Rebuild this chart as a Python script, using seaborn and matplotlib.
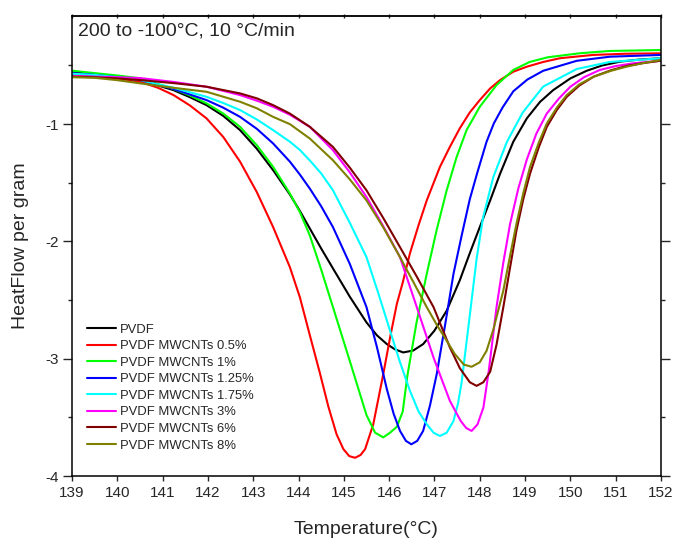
import numpy as np
import pandas as pd
import matplotlib
matplotlib.use("Agg")
import matplotlib.pyplot as plt
import seaborn as sns
from matplotlib.ticker import MultipleLocator

labels = ["PVDF", "PVDF MWCNTs 0.5%", "PVDF MWCNTs 1%", "PVDF MWCNTs 1.25%",
          "PVDF MWCNTs 1.75%", "PVDF MWCNTs 3%", "PVDF MWCNTs 6%", "PVDF MWCNTs 8%"]
colors = ["#000000", "#FF0000", "#00FF00", "#0000FF", "#00FFFF", "#FF00FF", "#800000", "#808000"]

t_pvdf = [139.0, 139.5, 140.0, 140.5, 141.24, 141.6, 141.97, 142.34, 142.71, 143.08, 143.44, 143.81,
          144.03, 144.25, 144.5, 144.76, 145.13, 145.5, 145.73, 145.95, 146.13, 146.31, 146.53, 146.75,
          147.0, 147.27, 147.56, 147.78, 148.0, 148.23, 148.45, 148.74, 149.04, 149.33, 149.62, 150.0,
          150.36, 150.7, 151.1, 151.5, 152.0]
hf_pvdf = [-0.558, -0.575, -0.595, -0.624, -0.71, -0.77, -0.838, -0.93, -1.051, -1.21, -1.393, -1.60,
           -1.74, -1.89, -2.06, -2.23, -2.47, -2.69, -2.80, -2.875, -2.92, -2.946, -2.93, -2.875,
           -2.76, -2.59, -2.33, -2.10, -1.878, -1.65, -1.421, -1.15, -0.95, -0.81, -0.71, -0.61,
           -0.545, -0.50, -0.467, -0.45, -0.438]

t_05 = [139.0, 139.5, 140.0, 140.5, 140.9, 141.24, 141.6, 141.97, 142.34, 142.71, 143.08, 143.44,
        143.81, 144.03, 144.25, 144.47, 144.66, 144.84, 144.99, 145.12, 145.25, 145.37, 145.47, 145.65,
        145.87, 146.03, 146.17, 146.3, 146.46, 146.65, 146.83, 147.12, 147.34, 147.56, 147.78, 148.0,
        148.23, 148.45, 148.74, 149.04, 149.4, 149.77, 150.5, 151.2, 152.0]
hf_05 = [-0.573, -0.59, -0.61, -0.638, -0.69, -0.752, -0.84, -0.951, -1.11, -1.32, -1.58, -1.878,
         -2.22, -2.476, -2.80, -3.12, -3.41, -3.644, -3.77, -3.83, -3.844, -3.82, -3.77, -3.558,
         -3.131, -2.80, -2.532, -2.35, -2.10, -1.86, -1.65, -1.365, -1.194, -1.035, -0.90, -0.795,
         -0.695, -0.624, -0.553, -0.51, -0.47, -0.438, -0.41, -0.40, -0.396]

t_1 = [139.0, 139.5, 140.0, 140.5, 141.24, 141.6, 141.97, 142.34, 142.71, 143.08, 143.44, 143.81,
       144.03, 144.25, 144.5, 144.76, 145.13, 145.5, 145.69, 145.87, 146.02, 146.17, 146.3, 146.4,
       146.6, 146.83, 147.05, 147.27, 147.49, 147.71, 148.0, 148.37, 148.74, 149.1, 149.5, 150.2,
       150.87, 152.0]
hf_1 = [-0.544, -0.565, -0.585, -0.609, -0.70, -0.755, -0.823, -0.91, -1.023, -1.18, -1.365, -1.592,
        -1.75, -1.95, -2.24, -2.56, -3.017, -3.48, -3.63, -3.67, -3.63, -3.58, -3.45, -3.15,
        -2.70, -2.276, -1.90, -1.564, -1.279, -1.05, -0.852, -0.667, -0.538, -0.47, -0.43, -0.396,
        -0.376, -0.368]

t_125 = [139.0, 139.5, 140.0, 140.5, 141.24, 141.97, 142.34, 142.71, 143.08, 143.44, 143.81, 144.03,
         144.25, 144.5, 144.76, 145.13, 145.5, 145.73, 145.95, 146.1, 146.24, 146.37, 146.49, 146.62,
         146.75, 146.9, 147.05, 147.24, 147.42, 147.6, 147.78, 147.94, 148.15, 148.31, 148.5, 148.74,
         149.05, 149.4, 150.14, 150.87, 152.0]
hf_125 = [-0.565, -0.58, -0.60, -0.624, -0.70, -0.795, -0.86, -0.938, -1.04, -1.165, -1.32, -1.43,
          -1.55, -1.70, -1.878, -2.19, -2.56, -2.90, -3.26, -3.47, -3.615, -3.70, -3.729, -3.70,
          -3.615, -3.40, -3.131, -2.70, -2.276, -1.95, -1.64, -1.421, -1.15, -0.994, -0.86, -0.72,
          -0.62, -0.545, -0.46, -0.425, -0.41]

t_175 = [139.0, 139.5, 140.0, 140.5, 141.24, 141.97, 142.34, 142.71, 143.08, 143.44, 143.81, 144.03,
         144.25, 144.5, 144.76, 145.13, 145.5, 145.76, 146.02, 146.24, 146.46, 146.65, 146.83, 146.98,
         147.12, 147.27, 147.42, 147.52, 147.6, 147.78, 147.93, 148.07, 148.3, 148.6, 148.95, 149.4,
         150.14, 150.87, 152.0]
hf_175 = [-0.57, -0.58, -0.60, -0.624, -0.69, -0.767, -0.82, -0.880, -0.96, -1.051, -1.15, -1.22,
          -1.31, -1.42, -1.564, -1.84, -2.134, -2.44, -2.761, -3.03, -3.274, -3.45, -3.558, -3.63,
          -3.658, -3.63, -3.53, -3.38, -3.2, -2.63, -2.15, -1.80, -1.45, -1.15, -0.90, -0.68,
          -0.53, -0.47, -0.438]

t_3 = [139.0, 139.5, 140.0, 140.5, 141.24, 141.97, 142.71, 143.08, 143.44, 143.81, 144.25, 144.76,
       145.13, 145.5, 145.87, 146.24, 146.61, 146.98, 147.34, 147.58, 147.7, 147.82, 147.95, 148.08,
       148.2, 148.37, 148.52, 148.67, 148.85, 149.04, 149.25, 149.48, 149.75, 150.0, 150.3, 150.65,
       151.0, 151.39, 152.0]
hf_3 = [-0.59, -0.595, -0.60, -0.607, -0.64, -0.681, -0.752, -0.80, -0.852, -0.92, -1.023, -1.222,
        -1.41, -1.621, -1.87, -2.134, -2.56, -2.99, -3.359, -3.53, -3.59, -3.615, -3.56, -3.416,
        -3.1, -2.56, -2.18, -1.849, -1.55, -1.30, -1.08, -0.909, -0.78, -0.681, -0.60, -0.538,
        -0.505, -0.481, -0.459]

t_6 = [139.0, 139.5, 140.0, 140.5, 141.24, 141.97, 142.71, 143.08, 143.44, 143.81, 144.25, 144.76,
       145.13, 145.5, 145.87, 146.24, 146.61, 146.98, 147.34, 147.56, 147.78, 147.93, 148.08, 148.23,
       148.37, 148.52, 148.67, 148.81, 148.96, 149.11, 149.3, 149.48, 149.7, 149.92, 150.2, 150.51,
       150.9, 151.24, 151.6, 152.0]
hf_6 = [-0.595, -0.60, -0.61, -0.624, -0.65, -0.681, -0.738, -0.78, -0.838, -0.91, -1.023, -1.194,
        -1.37, -1.564, -1.80, -2.049, -2.30, -2.56, -2.903, -3.08, -3.2, -3.231, -3.2, -3.11,
        -2.88, -2.56, -2.22, -1.906, -1.64, -1.421, -1.20, -1.023, -0.88, -0.767, -0.67, -0.596,
        -0.54, -0.504, -0.48, -0.459]

t_8 = [139.0, 139.5, 140.0, 140.5, 141.24, 141.97, 142.71, 143.08, 143.44, 143.81, 144.25, 144.76,
       145.13, 145.5, 145.87, 146.24, 146.54, 146.83, 147.05, 147.27, 147.45, 147.65, 147.82, 148.0,
       148.15, 148.3, 148.52, 148.67, 148.81, 148.96, 149.11, 149.3, 149.48, 149.7, 149.92, 150.2,
       150.51, 150.9, 151.24, 151.6, 152.0]
hf_8 = [-0.60, -0.605, -0.625, -0.652, -0.69, -0.724, -0.809, -0.865, -0.938, -1.00, -1.123, -1.308,
        -1.47, -1.650, -1.88, -2.134, -2.35, -2.56, -2.71, -2.846, -2.96, -3.05, -3.068, -3.03,
        -2.932, -2.75, -2.419, -2.12, -1.849, -1.59, -1.365, -1.16, -0.994, -0.86, -0.752, -0.66,
        -0.596, -0.545, -0.51, -0.48, -0.453]

series_t = [t_pvdf, t_05, t_1, t_125, t_175, t_3, t_6, t_8]
series_hf = [hf_pvdf, hf_05, hf_1, hf_125, hf_175, hf_3, hf_6, hf_8]

xticks = list(range(139, 153))
yticks = [-4, -3, -2, -1]

frames = []
for lab, t, hf in zip(labels, series_t, series_hf):
    frames.append(pd.DataFrame({"T": t, "HF": hf, "sample": lab}))
df = pd.concat(frames, ignore_index=True)

sns.set_style("ticks")
plt.rcParams["font.family"] = ["Liberation Sans", "DejaVu Sans"]

fig = plt.figure(figsize=(6.76, 5.41), dpi=100)
ax = fig.add_axes([0.1065, 0.12, 0.8713, 0.85])

sns.lineplot(data=df, x="T", y="HF", hue="sample", hue_order=labels,
             palette=dict(zip(labels, colors)), estimator=None, sort=False,
             linewidth=1.5, ax=ax)

ax.set_xlim(139, 152)
ax.set_ylim(-4, -0.08)
ax.set_xticks(xticks)
ax.set_xticklabels([str(v) for v in xticks])
ax.set_yticks(yticks)
ax.set_yticklabels([str(v) for v in yticks])
ax.yaxis.set_minor_locator(MultipleLocator(0.5))

for s in ax.spines.values():
    s.set_visible(True)
    s.set_linewidth(1.1)
    s.set_color("black")

ax.tick_params(axis="x", which="major", direction="out", length=3.4, width=1,
               labelsize=11, pad=4)
ax.tick_params(axis="y", which="major", direction="out", length=6.5, width=1,
               labelsize=11, right=True, pad=3)
ax.tick_params(axis="y", which="minor", direction="out", length=3, width=1, right=True)

# short marks on the top spine
secx = ax.secondary_xaxis("top")
secx.set_xticks(xticks)
secx.tick_params(direction="inout", length=2.5, width=1, labeltop=False)
secx.spines["top"].set_linewidth(1.1)

ax.set_xlabel("Temperature(°C)", fontsize=14, labelpad=15)
ax.set_ylabel("HeatFlow per gram", fontsize=14, labelpad=12)

ax.text(0.01, 0.987, "200 to -100°C, 10 °C/min", transform=ax.transAxes,
        fontsize=14, va="top", ha="left")

leg = ax.legend(loc="upper left", bbox_to_anchor=(0.025, 0.332), frameon=False,
                fontsize=9.4, handlelength=2.25, handletextpad=0.3,
                labelspacing=0.34, borderpad=0, borderaxespad=0)

fig.savefig("out.png", dpi=100)
